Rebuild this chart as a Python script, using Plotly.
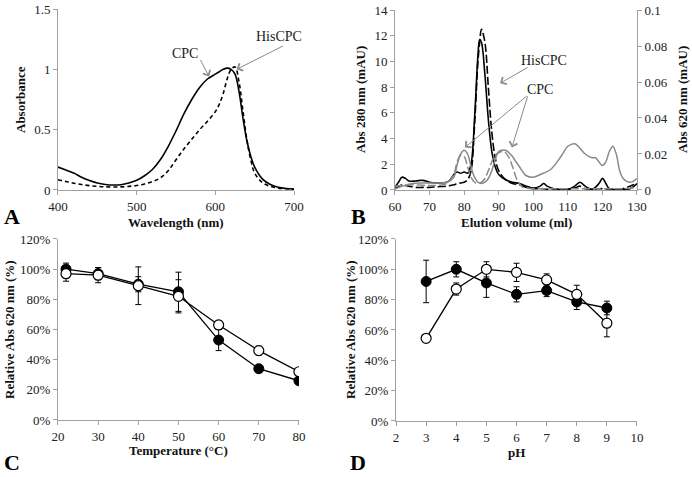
import plotly.graph_objects as go

# ---------- Panel A: absorbance spectra ----------
wl = [400, 410, 420, 430, 440, 450, 460, 470, 480, 490, 500, 510, 520, 530, 540, 550,
      560, 570, 580, 590, 600, 605, 610, 615, 620, 625, 630, 635, 640, 645, 650, 660,
      670, 680, 690, 700]
abs_cpc = [0.19, 0.165, 0.14, 0.105, 0.078, 0.058, 0.046, 0.041, 0.044, 0.058, 0.08, 0.118,
           0.17, 0.25, 0.36, 0.49, 0.63, 0.75, 0.85, 0.92, 0.96, 0.98, 1.0, 1.01, 1.0, 0.96,
           0.82, 0.6, 0.41, 0.28, 0.19, 0.09, 0.045, 0.022, 0.012, 0.008]
abs_his = [0.085, 0.07, 0.056, 0.045, 0.036, 0.03, 0.026, 0.025, 0.026, 0.03, 0.037, 0.05,
           0.07, 0.1, 0.16, 0.25, 0.34, 0.42, 0.5, 0.57, 0.65, 0.71, 0.8, 0.92, 1.0, 1.02,
           0.9, 0.66, 0.42, 0.25, 0.14, 0.06, 0.03, 0.015, 0.01, 0.005]

# ---------- Panel B: elution profiles ----------
vol_280 = [60, 61, 62, 63, 64, 66, 68, 70, 72, 75, 76, 77, 78, 79, 80, 81, 82, 83, 84, 84.5,
           85, 86, 87, 88, 89, 90, 92, 94, 96, 98, 100, 102, 103, 104, 106, 110, 112, 113.5,
           115, 117, 119, 120, 121, 122, 125, 128, 130]
cpc_280 = [0.2, 0.6, 1.0, 0.9, 0.7, 0.7, 0.75, 0.6, 0.55, 0.6, 0.8, 1.2, 1.4, 1.3, 1.4, 1.3,
           2.0, 5.5, 10.5, 11.7, 11.5, 9.0, 5.5, 3.0, 1.8, 1.2, 0.8, 0.6, 0.5, 0.3, 0.15, 0.3,
           0.5, 0.3, 0.1, 0.05, 0.3, 0.6, 0.3, 0.05, 0.5, 0.9, 0.5, 0.1, 0.05, 0.1, 0.5]
his_280 = [0.1, 0.25, 0.4, 0.35, 0.3, 0.2, 0.2, 0.2, 0.25, 0.3, 0.35, 0.4, 0.5, 0.55, 0.6, 0.8,
           1.5, 5.0, 10.0, 11.5, 12.5, 11.5, 8.0, 4.5, 2.5, 1.5, 0.8, 0.5, 0.4, 0.2, 0.1, 0.1,
           0.1, 0.05, 0.05, 0.05, 0.15, 0.3, 0.1, 0.05, 0.1, 0.1, 0.05, 0.05, 0.05, 0.3, 0.5]
vol_620 = [60, 62, 65, 70, 75, 77, 78, 79, 80, 81, 82, 83, 84, 85, 86, 87, 88, 89, 90, 91, 92,
           93, 94, 95, 96, 97, 98, 100, 102, 105, 108, 110, 112, 113, 115, 117, 118, 120, 121,
           122, 123, 124, 125, 126, 128, 130]
cpc_620 = [0.0007, 0.002, 0.0036, 0.0039, 0.0043, 0.0071, 0.0143, 0.02, 0.0221, 0.02, 0.0129,
           0.0071, 0.0043, 0.0036, 0.0043, 0.0064, 0.0107, 0.0171, 0.0214, 0.0221, 0.0221,
           0.0207, 0.0186, 0.0157, 0.0129, 0.01, 0.0079, 0.0071, 0.0086, 0.0114, 0.0186,
           0.0243, 0.0257, 0.0243, 0.02, 0.0179, 0.0179, 0.0136, 0.0157, 0.0214, 0.0243, 0.02,
           0.0107, 0.0064, 0.0043, 0.0064]
his_620 = [0.0021, 0.0025, 0.0029, 0.0025, 0.0036, 0.0086, 0.0157, 0.0193, 0.0186, 0.0129,
           0.0071, 0.0043, 0.0036, 0.0043, 0.0064, 0.0107, 0.0157, 0.0193, 0.0207, 0.0214,
           0.0207, 0.0179, 0.0129, 0.0071, 0.0036, 0.0014, 0.0010, 0.0007, 0.0007, 0.0007,
           0.0007, 0.0007, 0.0007, 0.0007, 0.0007, 0.0007, 0.0007, 0.0007, 0.0007, 0.0007,
           0.0007, 0.0007, 0.0007, 0.0007, 0.001, 0.0014]

# ---------- Panel C: temperature stability ----------
temp = [22, 30, 40, 50, 60, 70, 80]
temp_cpc = [1.00, 0.97, 0.90, 0.85, 0.53, 0.34, 0.26]
temp_cpc_err = [0.04, 0.04, 0.05, 0.13, 0.07, 0.02, 0.02]
temp_his = [0.97, 0.96, 0.89, 0.82, 0.63, 0.46, 0.32]
temp_his_err = [0.05, 0.05, 0.125, 0.11, 0.03, 0.03, 0.02]

# ---------- Panel D: pH stability ----------
ph = [3, 4, 5, 6, 7, 8, 9]
ph_cpc = [0.92, 1.00, 0.91, 0.835, 0.86, 0.785, 0.745]
ph_cpc_err = [0.14, 0.05, 0.095, 0.05, 0.04, 0.05, 0.045]
ph_his = [0.545, 0.87, 1.00, 0.98, 0.93, 0.835, 0.645]
ph_his_err = [0.0, 0.04, 0.05, 0.06, 0.04, 0.06, 0.09]

FONT = "Liberation Serif, Times New Roman, serif"
GRAY = "#8a8a8a"
AX = "#a0a0a0"

fig = go.Figure()

# Panel A
fig.add_trace(go.Scatter(x=wl, y=abs_cpc, mode="lines", line=dict(color="black", width=1.6),
                         line_shape="spline", xaxis="x", yaxis="y"))
fig.add_trace(go.Scatter(x=wl, y=abs_his, mode="lines",
                         line=dict(color="black", width=1.6, dash="4px,3px"),
                         line_shape="spline", xaxis="x", yaxis="y"))

# Panel B
fig.add_trace(go.Scatter(x=vol_620, y=cpc_620, mode="lines", line=dict(color=GRAY, width=1.5),
                         line_shape="spline", xaxis="x2", yaxis="y3"))
fig.add_trace(go.Scatter(x=vol_620, y=his_620, mode="lines",
                         line=dict(color=GRAY, width=1.5, dash="8px,3px"),
                         line_shape="spline", xaxis="x2", yaxis="y3"))
fig.add_trace(go.Scatter(x=vol_280, y=cpc_280, mode="lines", line=dict(color="black", width=1.6),
                         line_shape="spline", xaxis="x2", yaxis="y2"))
fig.add_trace(go.Scatter(x=vol_280, y=his_280, mode="lines",
                         line=dict(color="black", width=1.6, dash="8px,3px"),
                         line_shape="spline", xaxis="x2", yaxis="y2"))

def eb(err):
    return dict(type="data", array=err, visible=True, color="black", thickness=1, width=3)

# Panel C
fig.add_trace(go.Scatter(x=temp, y=temp_cpc, mode="lines+markers", error_y=eb(temp_cpc_err),
                         line=dict(color="black", width=1.3),
                         marker=dict(size=10, color="black", line=dict(color="black", width=1)),
                         xaxis="x3", yaxis="y4"))
fig.add_trace(go.Scatter(x=temp, y=temp_his, mode="lines+markers", error_y=eb(temp_his_err),
                         line=dict(color="black", width=1.3),
                         marker=dict(size=10, color="white", line=dict(color="black", width=1.2)),
                         xaxis="x3", yaxis="y4"))

# Panel D
fig.add_trace(go.Scatter(x=ph, y=ph_cpc, mode="lines+markers", error_y=eb(ph_cpc_err),
                         line=dict(color="black", width=1.3),
                         marker=dict(size=10, color="black", line=dict(color="black", width=1)),
                         xaxis="x4", yaxis="y5"))
fig.add_trace(go.Scatter(x=ph, y=ph_his, mode="lines+markers", error_y=eb(ph_his_err),
                         line=dict(color="black", width=1.3),
                         marker=dict(size=10, color="white", line=dict(color="black", width=1.2)),
                         xaxis="x4", yaxis="y5"))

tickfont = dict(family=FONT, size=13, color="#222")

def xax(domain, anchor, rng, dtick):
    return dict(domain=domain, anchor=anchor, range=rng, dtick=dtick, tick0=rng[0],
                showgrid=False, zeroline=False, showline=True, linecolor=AX, linewidth=1,
                ticks="outside", ticklen=4, tickcolor=AX, tickfont=tickfont, automargin=False)

def yax(domain, anchor, rng, dtick, side="left", fmt=None, overlaying=None):
    d = dict(domain=domain, anchor=anchor, range=rng, dtick=dtick, tick0=0,
             showgrid=False, zeroline=False, showline=True, linecolor=AX, linewidth=1,
             ticks="outside", ticklen=4, tickcolor=AX, tickfont=tickfont, side=side,
             automargin=False)
    if fmt:
        d["tickformat"] = fmt
    if overlaying:
        d["overlaying"] = overlaying
    return d

ytop = [0.6017, 0.9811]
ybot = [0.1195, 0.499]

fig.update_layout(
    width=692, height=477, margin=dict(l=0, r=0, t=0, b=0, pad=0, autoexpand=False),
    paper_bgcolor="white", plot_bgcolor="white", showlegend=False,
    font=dict(family=FONT, size=13, color="black"),
    xaxis=xax([0.0838, 0.4249], "y", [400, 700], 100),
    yaxis=yax(ytop, "x", [0, 1.5], 0.5),
    xaxis2=xax([0.5708, 0.9205], "y2", [60, 130], 10),
    yaxis2=yax([0.6017, 0.979], "x2", [0, 14], 2),
    yaxis3=yax([0.6017, 0.979], "x2", [0, 0.1], 0.02, side="right", overlaying="y2"),
    xaxis3=xax([0.0838, 0.432], "y4", [20, 80], 10),
    yaxis4=yax(ybot, "x3", [0, 1.2], 0.2, fmt=".0%"),
    xaxis4=xax([0.5723, 0.9205], "y5", [2, 10], 1),
    yaxis5=yax([0.1174, 0.499], "x4", [0, 1.2], 0.2, fmt=".0%"),
)

def title(text, x, y, angle=0):
    return dict(text="<b>%s</b>" % text, x=x, y=y, xref="paper", yref="paper",
                showarrow=False, textangle=angle, font=dict(family=FONT, size=13, color="#111"),
                xanchor="center", yanchor="middle")

def letter(text, x, y):
    return dict(text="<b>%s</b>" % text, x=x, y=y, xref="paper", yref="paper",
                showarrow=False, font=dict(family=FONT, size=22, color="black"),
                xanchor="center", yanchor="middle")

def label(text, x, y, xr, yr):
    return dict(text=text, x=x, y=y, xref=xr, yref=yr, showarrow=False,
                font=dict(family=FONT, size=14, color="#222"), xanchor="center", yanchor="middle")

def arrow(x, y, ax, ay, xr, yr):
    return dict(text="", x=x, y=y, ax=ax, ay=ay, xref=xr, yref=yr, axref=xr, ayref=yr,
                showarrow=True, arrowhead=4, arrowsize=1.6, arrowwidth=1, arrowcolor=GRAY)

H = 477.0
W = 692.0
annots = [
    title("Absorbance", 20 / W, 1 - 100 / H, -90),
    title("Wavelength (nm)", 176 / W, 1 - 222 / H),
    title("Abs 280 nm (mAU)", 360 / W, 1 - 100 / H, -90),
    title("Abs 620 nm (mAU)", 682 / W, 1 - 100 / H, -90),
    title("Elution volume (ml)", 516 / W, 1 - 222 / H),
    title("Relative Abs 620 nm (%)", 9 / W, 1 - 330 / H, -90),
    title("Temperature (°C)", 178 / W, 1 - 450 / H),
    title("Relative Abs 620 nm (%)", 350 / W, 1 - 330 / H, -90),
    title("pH", 516 / W, 1 - 452 / H),
    letter("A", 12 / W, 1 - 216 / H),
    letter("B", 358 / W, 1 - 216 / H),
    letter("C", 12 / W, 1 - 462 / H),
    letter("D", 358 / W, 1 - 462 / H),
    label("CPC", 562, 1.13, "x", "y"),
    arrow(592, 0.94, 580, 1.09, "x", "y"),
    label("HisCPC", 681, 1.27, "x", "y"),
    arrow(627, 1.0, 688, 1.2, "x", "y"),
    label("HisCPC", 103, 10.1, "x2", "y2"),
    arrow(90.4, 8.3, 98.8, 9.6, "x2", "y2"),
    label("CPC", 102, 7.85, "x2", "y2"),
    arrow(80.2, 3.3, 98.5, 7.4, "x2", "y2"),
    arrow(93.8, 3.3, 98.5, 7.4, "x2", "y2"),
]
fig.update_layout(annotations=annots)

fig.write_html("out.html", config={"displayModeBar": False},
               post_script="document.body.style.margin='0';document.body.style.overflow='hidden';")
